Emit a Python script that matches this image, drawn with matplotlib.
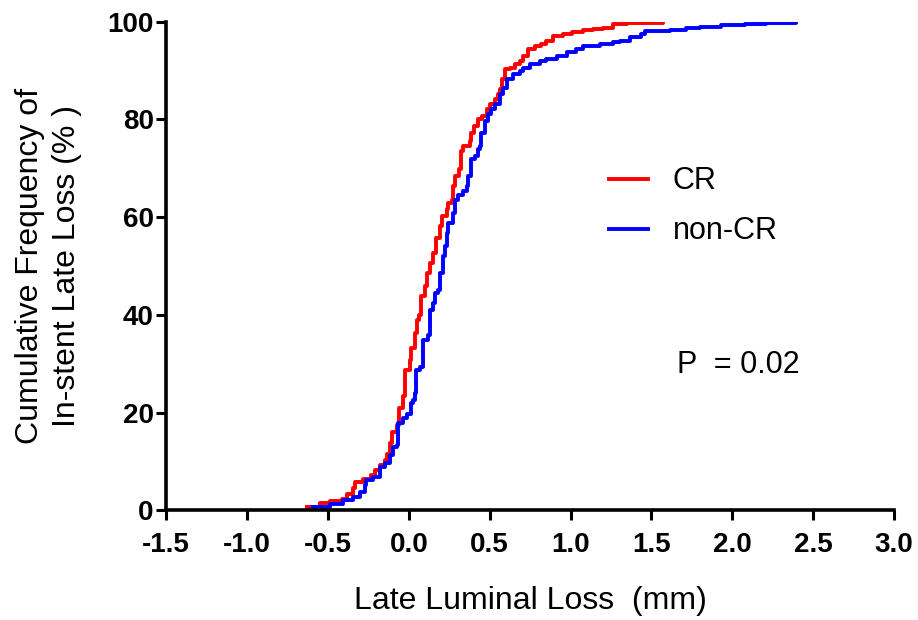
import matplotlib
matplotlib.use("Agg")
from matplotlib import pyplot as plt

# cumulative frequency curves (x = late luminal loss in mm, y = cumulative %)
cr_x = [-0.632, -0.550, -0.488, -0.416, -0.385, -0.344, -0.334, -0.282, -0.231, -0.210,
        -0.179, -0.148, -0.134, -0.117, -0.101, -0.076, -0.060, -0.039, -0.025, 0.006,
        0.016, 0.037, 0.052, 0.064, 0.078, 0.099, 0.115, 0.134, 0.150, 0.167,
        0.192, 0.208, 0.233, 0.243, 0.264, 0.274, 0.284, 0.311, 0.321, 0.336,
        0.377, 0.387, 0.402, 0.428, 0.455, 0.484, 0.501, 0.532, 0.552, 0.562,
        0.577, 0.593, 0.624, 0.655, 0.686, 0.707, 0.737, 0.779, 0.820, 0.851,
        0.892, 0.954, 1.006, 1.077, 1.139, 1.201, 1.263, 1.350, 1.572]
cr_y = [0.7, 1.4, 1.9, 2.3, 3.4, 4.5, 5.8, 6.5, 7.2, 8.2,
        9.2, 10.3, 11.6, 13.7, 16.1, 17.4, 20.9, 23.3, 28.7, 30.8,
        33.2, 36.3, 39.0, 40.0, 43.8, 45.8, 48.6, 50.6, 52.7, 55.8,
        58.1, 60.2, 61.6, 62.9, 63.6, 66.3, 68.4, 69.8, 73.5, 74.6,
        75.6, 77.3, 78.7, 80.0, 80.7, 82.1, 83.1, 84.1, 85.2, 86.2,
        88.2, 90.3, 90.6, 91.3, 92.0, 93.0, 94.4, 95.1, 95.4, 96.1,
        97.1, 97.5, 97.8, 98.2, 98.5, 98.8, 99.5, 99.8, 100.0]

noncr_x = [-0.591, -0.488, -0.406, -0.344, -0.303, -0.272, -0.262, -0.220, -0.179, -0.148,
           -0.117, -0.097, -0.076, -0.066, -0.035, -0.014, 0.016, 0.027, 0.037, 0.047,
           0.068, 0.088, 0.119, 0.130, 0.150, 0.161, 0.181, 0.192, 0.212, 0.222,
           0.233, 0.243, 0.274, 0.284, 0.305, 0.336, 0.357, 0.367, 0.387, 0.408,
           0.428, 0.439, 0.449, 0.470, 0.490, 0.511, 0.532, 0.562, 0.583, 0.604,
           0.645, 0.686, 0.707, 0.748, 0.810, 0.851, 0.913, 0.975, 1.036, 1.077,
           1.180, 1.263, 1.304, 1.366, 1.438, 1.459, 1.613, 1.716, 1.799, 1.932,
           2.077, 2.211, 2.396]
noncr_y = [0.7, 1.2, 2.1, 2.7, 3.8, 5.1, 6.2, 6.8, 8.9, 9.6,
           11.3, 13.0, 13.3, 17.8, 18.8, 19.8, 21.9, 22.6, 23.9, 28.7,
           29.4, 34.9, 35.9, 41.0, 42.4, 44.5, 45.1, 48.6, 52.0, 54.0,
           56.8, 58.8, 60.9, 63.6, 64.6, 65.3, 66.3, 68.4, 71.8, 72.5,
           73.9, 74.6, 77.3, 79.7, 81.1, 82.1, 83.1, 85.2, 86.5, 88.2,
           89.3, 89.9, 90.6, 91.3, 92.0, 92.3, 93.0, 93.7, 94.4, 95.1,
           95.4, 95.9, 96.1, 96.8, 97.5, 98.0, 98.4, 98.7, 99.0, 99.4,
           99.6, 99.8, 100.0]

x_ticks = [-1.5, -1.0, -0.5, 0.0, 0.5, 1.0, 1.5, 2.0, 2.5, 3.0]
y_ticks = [0, 20, 40, 60, 80, 100]

plt.rcParams['font.family'] = ['Liberation Sans', 'DejaVu Sans']

fig = plt.figure(figsize=(9.18, 6.2), dpi=100)
ax = fig.add_axes([0.181, 0.177, 0.793, 0.788])

ax.step(cr_x, cr_y, where="post", color="#ff0000", lw=2.8, label="CR")
ax.step(noncr_x, noncr_y, where="post", color="#0000ff", lw=2.8, label="non-CR")

ax.set_xlim(-1.5, 3.0)
ax.set_ylim(0, 100)
ax.set_xticks(x_ticks)
ax.set_xticklabels([f"{t:.1f}" for t in x_ticks])
ax.set_yticks(y_ticks)

for side in ["top", "right"]:
    ax.spines[side].set_visible(False)
for side in ["left", "bottom"]:
    ax.spines[side].set_linewidth(2.6)
ax.tick_params(direction="out", length=7, width=2.2, labelsize=20)
ax.tick_params(axis="x", pad=8.5)
ax.tick_params(axis="y", pad=2)
for lab in ax.get_xticklabels() + ax.get_yticklabels():
    lab.set_fontweight("bold")

ax.set_xlabel("Late Luminal Loss  (mm)", fontsize=23, labelpad=20)
ax.set_ylabel("Cumulative Frequency of\nIn-stent Late Loss (% )", fontsize=23,
              linespacing=1.3, labelpad=18)

ax.legend(loc="upper left", bbox_to_anchor=(0.57, 0.76), frameon=False,
          fontsize=22, handlelength=1.3, handletextpad=0.8, labelspacing=0.65)
ax.text(1.66, 29.8, "P  = 0.02", fontsize=22, va="center")

fig.savefig("out.png", dpi=100)
